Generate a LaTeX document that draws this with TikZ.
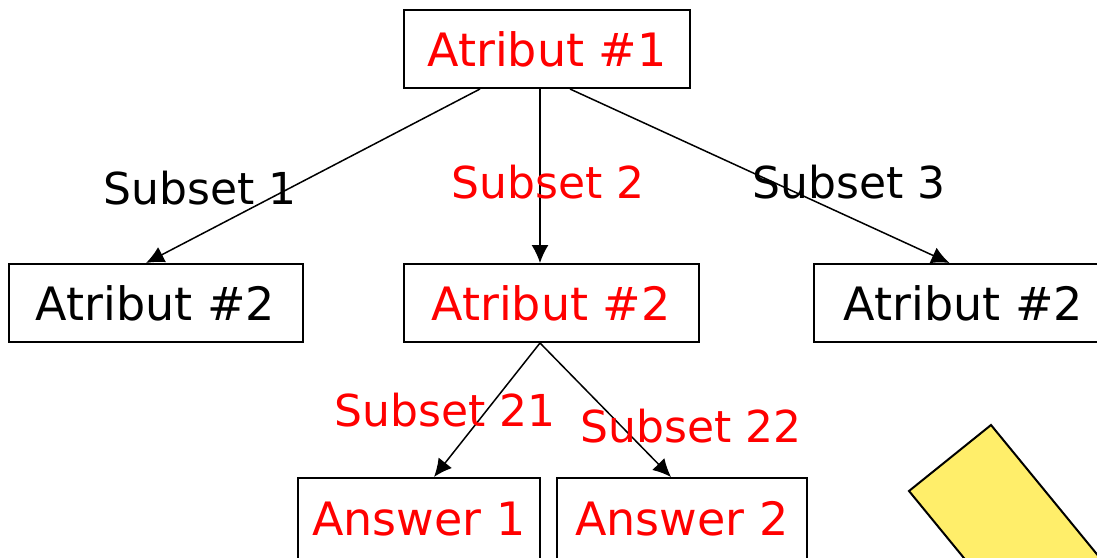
\documentclass[tikz,border=0pt]{standalone}
\usepackage{fontspec}
\setmainfont{DejaVu Sans}
\usetikzlibrary{positioning,arrows.meta}

\definecolor{notepad}{RGB}{255,238,106}

\begin{document}
\begin{tikzpicture}[x=0.5pt,y=-0.5pt,>={Latex[length=9pt,width=8.5pt]},line width=0.75pt]
  \tikzset{box/.style={draw=black,line width=1pt,minimum height=39pt,font=\fontsize{23}{27}\selectfont},
           lbl/.style={font=\fontsize{22}{26}\selectfont}}
  \useasboundingbox (0,0) rectangle (1097,557);

  %--- Attribute nodes ---
  \node[box, text=red, minimum width=143pt] (a1) at (547,49) {Atribut \#1};
  \node[box, text=red, minimum width=147.5pt] (a2mid) [below=87pt of a1, xshift=2pt] {Atribut \#2};
  \node[box, minimum width=147pt] (a2left) [left=49.5pt of a2mid] {Atribut \#2};
  \node[box, minimum width=150pt] (a2right) [right=56.5pt of a2mid] {Atribut \#2};

  %--- Answers (cut at the bottom) ---
  \node[box, text=red, minimum width=121pt, minimum height=41pt] (ans1) [below=67pt of a2mid, xshift=-66pt] {Answer 1};
  \node[box, text=red, minimum width=125pt, minimum height=41pt] (ans2) [right=7.5pt of ans1] {Answer 2};

  %--- Branches ---
  \draw[->] ([xshift=-33.5pt]a1.south) -- node[lbl, pos=0.57, left, inner sep=1pt, xshift=5pt] {Subset 1} ([xshift=-4.75pt]a2left.north);
  \draw[->] ([xshift=-3.5pt]a1.south) -- node[lbl, text=red, pos=0.55, xshift=4pt, yshift=1.5pt] {Subset 2} ([xshift=-5.5pt]a2mid.north);
  \draw[->] ([xshift=11.5pt]a1.south) -- node[lbl, pos=0.48, right, inner sep=0pt, yshift=-5pt] {Subset 3} ([xshift=-7pt]a2right.north);
  \draw[->] ([xshift=-5.5pt]a2mid.south) -- node[lbl, text=red, pos=0.5, xshift=-21pt] {Subset 21} ([xshift=7.5pt]ans1.north);
  \draw[->] ([xshift=-5.5pt]a2mid.south) -- node[lbl, text=red, pos=0.62, xshift=35pt] {Subset 22} ([xshift=-5.5pt]ans2.north);

  % yellow note in the corner
  \draw[fill=notepad, line width=1pt] (909,491) -- (991,425) -- (1141,608) -- (1009,613) -- cycle;
\end{tikzpicture}
\end{document}
